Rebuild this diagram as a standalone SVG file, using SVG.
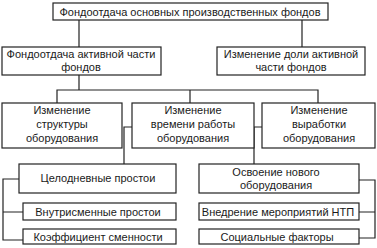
<svg xmlns="http://www.w3.org/2000/svg" width="377" height="248" viewBox="0 0 377 248">
<style>
.b{fill:#fff;stroke:#222;stroke-width:1.2}
.c{fill:none;stroke:#222;stroke-width:1.2}
text{font-family:"Liberation Sans",Arial,sans-serif;font-size:11px;fill:#1a1a1a;text-anchor:middle}
</style>
<rect width="377" height="248" fill="#fff"/>
<g id="connectors">
<path class="c" d="M79,20V47M302,20V47"/>
<path class="c" d="M79,75V90M57,103V90H318V103M190,90V103"/>
<path class="c" d="M132,127H124V164M262,127H254V164"/>
<path class="c" d="M19,179H3V240H23M3,212H23"/>
<path class="c" d="M359,180H375V238H359M375,212H359"/>
</g>
<g id="n1"><rect class="b" x="53" y="3" width="275" height="17"/><text x="190" y="15.5">Фондоотдача основных производственных фондов</text></g>
<g id="n2"><rect class="b" x="2" y="47" width="159" height="28"/><text x="81" y="58">Фондоотдача активной части</text><text x="81" y="70.5">фондов</text></g>
<g id="n3"><rect class="b" x="217" y="47" width="148" height="28"/><text x="291" y="58">Изменение доли активной</text><text x="291" y="70.5">части фондов</text></g>
<g id="n4"><rect class="b" x="2" y="103" width="120" height="45"/><text x="62" y="114">Изменение</text><text x="62" y="128">структуры</text><text x="62" y="142">оборудования</text></g>
<g id="n5"><rect class="b" x="132" y="103" width="122" height="45"/><text x="193" y="114">Изменение</text><text x="193" y="128">времени работы</text><text x="193" y="142">оборудования</text></g>
<g id="n6"><rect class="b" x="262" y="103" width="113" height="45"/><text x="319" y="114">Изменение</text><text x="319" y="128">выработки</text><text x="319" y="142">оборудования</text></g>
<g id="n7"><rect class="b" x="19" y="164" width="157" height="29"/><text x="98" y="182">Целодневные простои</text></g>
<g id="n8"><rect class="b" x="23" y="203" width="153" height="17"/><text x="98" y="215.5">Внутрисменные простои</text></g>
<g id="n9"><rect class="b" x="23" y="229" width="153" height="15"/><text x="98" y="240.5">Коэффициент сменности</text></g>
<g id="n10"><rect class="b" x="199" y="164" width="160" height="29"/><text x="276" y="176">Освоение нового</text><text x="276" y="188.5">оборудования</text></g>
<g id="n11"><rect class="b" x="199" y="203" width="160" height="17"/><text x="278" y="215.5">Внедрение мероприятий НТП</text></g>
<g id="n12"><rect class="b" x="199" y="229" width="160" height="15"/><text x="277" y="240.5">Социальные факторы</text></g>
</svg>
